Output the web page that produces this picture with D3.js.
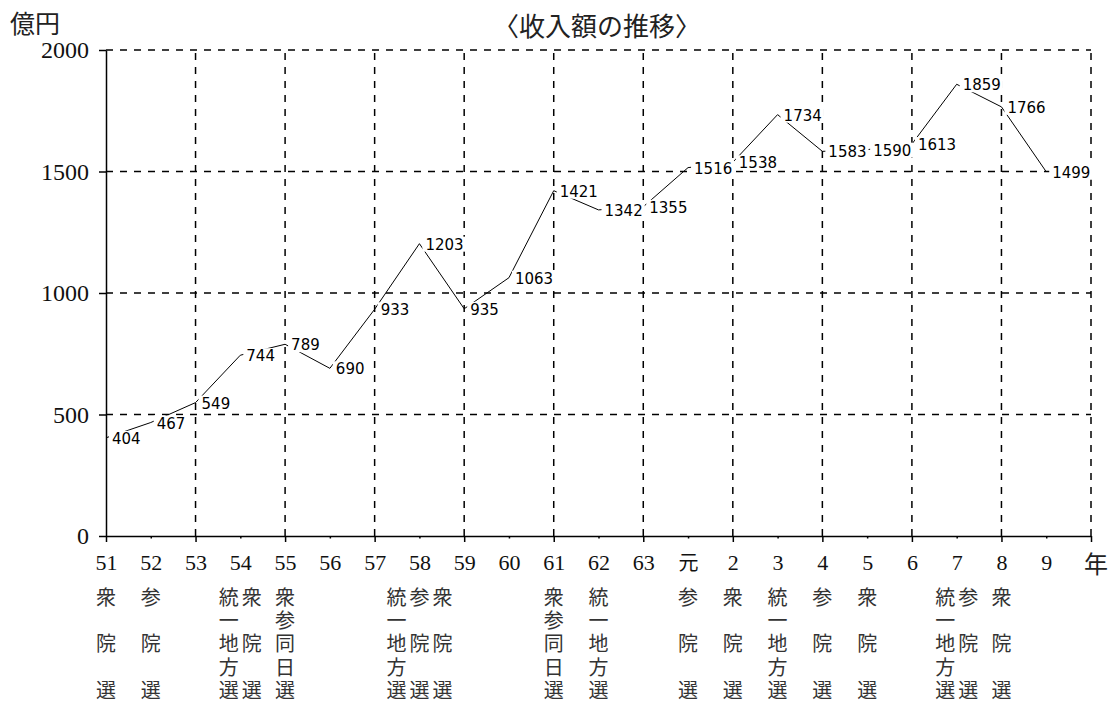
<!DOCTYPE html>
<html>
<head>
<meta charset="utf-8">
<script src="https://cdn.jsdelivr.net/npm/d3@7"></script>
<style>
  body { margin: 0; background: #fff; }
</style>
</head>
<body>
<div id="chart"></div>
<script>
// fiscal years (Showa 51-63, Heisei 元-9)
const years = ['51', '52', '53', '54', '55', '56', '57', '58', '59', '60', '61', '62', '63',
  '元', '2', '3', '4', '5', '6', '7', '8', '9'];

// income, 億円
const income = [404, 467, 549, 744, 789, 690, 933, 1203, 935, 1063, 1421, 1342, 1355,
  1516, 1538, 1734, 1583, 1590, 1613, 1859, 1766, 1499];

// elections held in each year, one vertical column per entry
const elections = [
  ['衆院選'], ['参院選'], [], ['統一地方選', '衆院選'], ['衆参同日選'], [], [],
  ['統一地方選', '参院選', '衆院選'], [], [], ['衆参同日選'], ['統一地方選'], [],
  ['参院選'], ['衆院選'], ['統一地方選'], ['参院選'], ['衆院選'], [],
  ['統一地方選', '参院選'], ['衆院選'], [],
];

const yTicks = [0, 500, 1000, 1500, 2000];

const width = 1112;
const height = 702;
const margin = {
  top: 50, right: 21, bottom: 166, left: 106,
};

const svg = d3.select('#chart').append('svg')
  .attr('width', width)
  .attr('height', height);

const x = d3.scaleLinear().domain([0, years.length]).range([margin.left, width - margin.right]);
const y = d3.scaleLinear().domain([0, 2000]).range([height - margin.bottom, margin.top]);

const serif = '"Liberation Serif", "DejaVu Serif", serif';
const cjk = '"Noto Sans CJK JP", sans-serif';

// dashed grid
const grid = svg.append('g')
  .attr('stroke', '#000')
  .attr('stroke-width', 1.5)
  .attr('stroke-dasharray', '7,7');

grid.selectAll('.hgrid')
  .data(yTicks.filter((d) => d > 0))
  .enter()
  .append('line')
  .attr('x1', x(0))
  .attr('x2', x(years.length))
  .attr('y1', (d) => y(d))
  .attr('y2', (d) => y(d));

grid.selectAll('.vgrid')
  .data(d3.range(2, years.length + 1, 2))
  .enter()
  .append('line')
  .attr('x1', (d) => x(d))
  .attr('x2', (d) => x(d))
  .attr('y1', y(0))
  .attr('y2', y(2000));

// y axis
const yAxis = svg.append('g')
  .attr('transform', `translate(${x(0)},0)`)
  .call(d3.axisLeft(y)
    .tickValues(yTicks)
    .tickFormat(d3.format('d'))
    .tickSize(7)
    .tickSizeOuter(0)
    .tickPadding(10));
yAxis.attr('font-family', null);
yAxis.selectAll('line, path').attr('stroke', '#000').attr('stroke-width', 1.5);
yAxis.selectAll('text')
  .style('font-family', serif)
  .style('font-size', '24px')
  .attr('fill', '#111');

// x axis
const xAxis = svg.append('g')
  .attr('transform', `translate(0,${y(0)})`)
  .call(d3.axisBottom(x)
    .tickValues(d3.range(0, years.length + 1))
    .tickSizeOuter(0)
    .tickFormat((i) => (i < years.length ? years[i] : '')));
xAxis.attr('font-family', null);
xAxis.selectAll('path, line').attr('stroke', '#000').attr('stroke-width', 1.5);
xAxis.selectAll('.tick line').attr('y2', (d) => (d % 2 === 0 ? 6 : 2.5));
xAxis.selectAll('text')
  .style('font-family', (i) => (years[i] === '元' ? cjk : serif))
  .style('font-size', (i) => (years[i] === '元' ? '20px' : '22px'))
  .attr('fill', '#111')
  .attr('y', 34)
  .attr('dy', null);

svg.append('text')
  .attr('x', x(years.length) + 5)
  .attr('y', 562)
  .attr('text-anchor', 'middle')
  .attr('dominant-baseline', 'central')
  .style('font-family', cjk)
  .style('font-size', '24px')
  .attr('fill', '#222')
  .text('年');

// unit and title
svg.append('text')
  .attr('x', 10)
  .attr('y', 22)
  .attr('dominant-baseline', 'central')
  .style('font-family', cjk)
  .style('font-size', '25px')
  .attr('fill', '#222')
  .text('億円');

svg.append('text')
  .attr('x', 597)
  .attr('y', 24)
  .attr('text-anchor', 'middle')
  .attr('dominant-baseline', 'central')
  .style('font-family', cjk)
  .style('font-size', '26px')
  .attr('fill', '#222')
  .text('〈收入額の推移〉');

// income line
const line = d3.line()
  .x((d, i) => x(i))
  .y((d) => y(d));

svg.append('path')
  .datum(income)
  .attr('fill', 'none')
  .attr('stroke', '#000')
  .attr('stroke-width', 1)
  .attr('d', line);

// value labels on white boxes
const labels = svg.append('g').selectAll('.value')
  .data(income)
  .enter()
  .append('g')
  .attr('transform', (d, i) => `translate(${x(i)},${y(d)})`);

labels.append('rect').attr('fill', '#fff');
labels.append('text')
  .attr('x', 6)
  .attr('y', 6)
  .style('font-family', '"DejaVu Sans", sans-serif')
  .style('font-size', '15px')
  .attr('fill', '#000')
  .text((d) => d);
labels.each(function () {
  const g = d3.select(this);
  const w = g.select('text').node().getComputedTextLength();
  g.select('rect')
    .attr('x', 3)
    .attr('y', -7)
    .attr('width', w + 5)
    .attr('height', 15);
});

// election notes, written vertically under each year (one text per column)
const rowStep = 23.2;
const colStep = 23;
const notes = svg.append('g')
  .style('font-family', cjk)
  .style('font-size', '20px')
  .attr('fill', '#333')
  .attr('text-anchor', 'middle')
  .attr('dominant-baseline', 'central');

elections.forEach((cols, i) => {
  cols.forEach((word, j) => {
    const cx = x(i) + (j - (cols.length - 1) / 2) * colStep;
    const rows = word.length === 5 ? [0, 1, 2, 3, 4] : [0, 2, 4];
    const t = notes.append('text');
    Array.from(word).forEach((ch, k) => {
      t.append('tspan')
        .attr('x', cx)
        .attr('y', 596 + rows[k] * rowStep)
        .text(ch);
    });
  });
});
</script>
</body>
</html>
